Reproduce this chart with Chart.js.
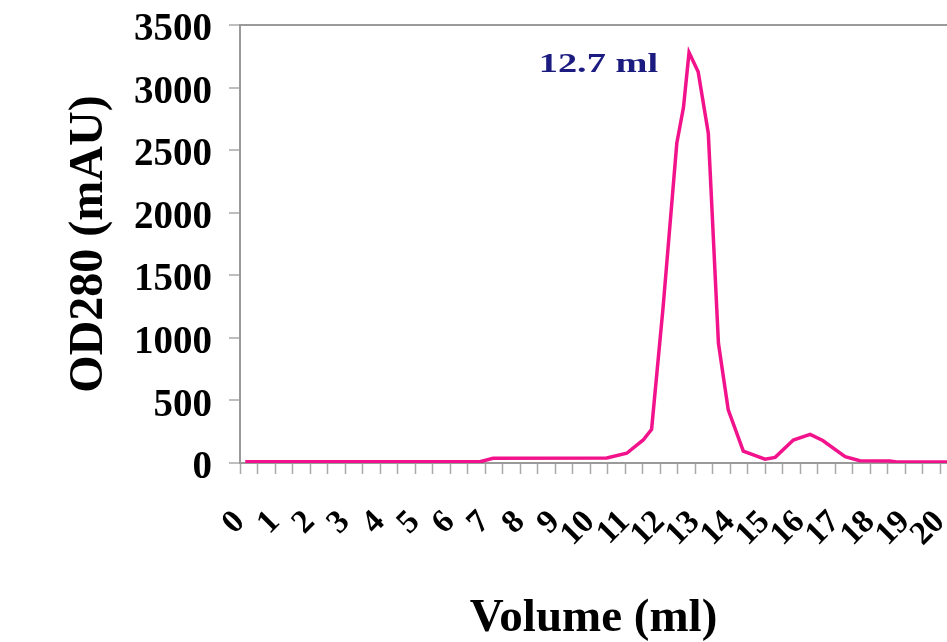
<!DOCTYPE html>
<html>
<head>
<meta charset="utf-8">
<script src="https://cdn.jsdelivr.net/npm/chart.js@4"></script>
<style>
html,body{margin:0;padding:0;background:#fff;overflow:hidden}
#wrap{width:947px;height:642px;position:relative}
</style>
</head>
<body>
<div id="wrap"><canvas id="c" width="947" height="642"></canvas></div>
<script>
// Elution volume (ml) and absorbance (mAU)
const volumes = [0.15, 6.86, 7.23, 10.48, 11.05, 11.52, 11.76, 12.09, 12.48, 12.67, 12.83, 13.09, 13.38, 13.67, 13.95, 14.38, 15.0, 15.29, 15.81, 16.29, 16.65, 17.29, 17.71, 18.57, 18.76, 20.3];
const od280   = [10, 10, 38, 40, 78, 184, 270, 1250, 2555, 2840, 3280, 3127, 2635, 957, 424, 95, 30, 45, 184, 229, 180, 50, 18, 16, 8, 8];
const xLabels = ['0','1','2','3','4','5','6','7','8','9','10','11','12','13','14','15','16','17','18','19','20'];
const yTickValues = [0, 500, 1000, 1500, 2000, 2500, 3000, 3500];
const peakVolume = 12.83;
const peakText = '12.7 ml';
const xTitle = 'Volume (ml)';
const yTitle = 'OD280 (mAU)';

const SERIF = "'Liberation Serif', 'DejaVu Serif', serif";
const AXIS = '#9a9a9a';

const peakLabel = {
  id: 'peakLabel',
  afterDatasetsDraw(chart) {
    const {ctx, scales: {x, y}} = chart;
    const px = x.getPixelForValue(peakVolume);
    const py = y.getPixelForValue(yTickValues[yTickValues.length - 1]);
    ctx.save();
    ctx.fillStyle = '#1b1b80';
    ctx.font = "bold 27px " + SERIF;
    ctx.textAlign = 'right';
    ctx.textBaseline = 'alphabetic';
    ctx.translate(px - 31, py + 47);
    ctx.scale(1.42, 1);
    ctx.fillText(peakText, 0, 0);
    ctx.restore();
  }
};

new Chart(document.getElementById('c'), {
  type: 'line',
  data: {
    datasets: [{
      data: volumes.map((v, i) => ({x: v, y: od280[i]})),
      borderColor: '#f2138c',
      borderWidth: 3.5,
      pointRadius: 0,
      tension: 0,
      fill: false
    }]
  },
  options: {
    responsive: false,
    animation: false,
    devicePixelRatio: 1,
    layout: {padding: {top: 25, right: 0, bottom: 0, left: 0}},
    plugins: {legend: {display: false}, tooltip: {enabled: false}},
    scales: {
      x: {
        type: 'linear',
        min: 0,
        max: 20.2,
        afterFit(s) { s.height = 179; s.paddingLeft = 0; s.paddingRight = 0; },
        border: {color: AXIS, width: 2},
        grid: {drawOnChartArea: false, tickColor: '#a8a8a8', tickLength: 11, tickWidth: 1.5},
        ticks: {
          stepSize: 0.5,
          includeBounds: false,
          autoSkip: false,
          minRotation: 45,
          maxRotation: 45,
          padding: 29,
          color: '#000',
          font: {family: SERIF, size: 33, weight: 'bold'},
          callback: v => Number.isInteger(v) ? xLabels[v] : ''
        },
        title: {
          display: true,
          text: xTitle,
          color: '#000',
          font: {family: SERIF, size: 47, weight: 'bold', lineHeight: 1},
          padding: {top: 0, bottom: 0}
        }
      },
      y: {
        type: 'linear',
        min: 0,
        max: 3500,
        afterFit(s) { s.width = 240; s.paddingTop = 0; s.paddingBottom = 0; },
        border: {color: AXIS, width: 2},
        grid: {
          drawOnChartArea: true,
          color: c => (c.tick && c.tick.value === 3500) ? AXIS : 'rgba(0,0,0,0)',
          lineWidth: 2,
          tickColor: '#a8a8a8',
          tickLength: 11,
          tickWidth: 1.5
        },
        afterBuildTicks(s) { s.ticks = yTickValues.map(v => ({value: v})); },
        ticks: {
          color: '#000',
          padding: 17,
          labelOffset: 5,
          font: {family: SERIF, size: 39, weight: 'bold'},
          callback: v => String(v)
        },
        title: {
          display: true,
          text: yTitle,
          color: '#000',
          font: {family: SERIF, size: 48, weight: 'bold', lineHeight: 1},
          padding: {top: 66, bottom: 0}
        }
      }
    }
  },
  plugins: [peakLabel]
});
</script>
</body>
</html>
